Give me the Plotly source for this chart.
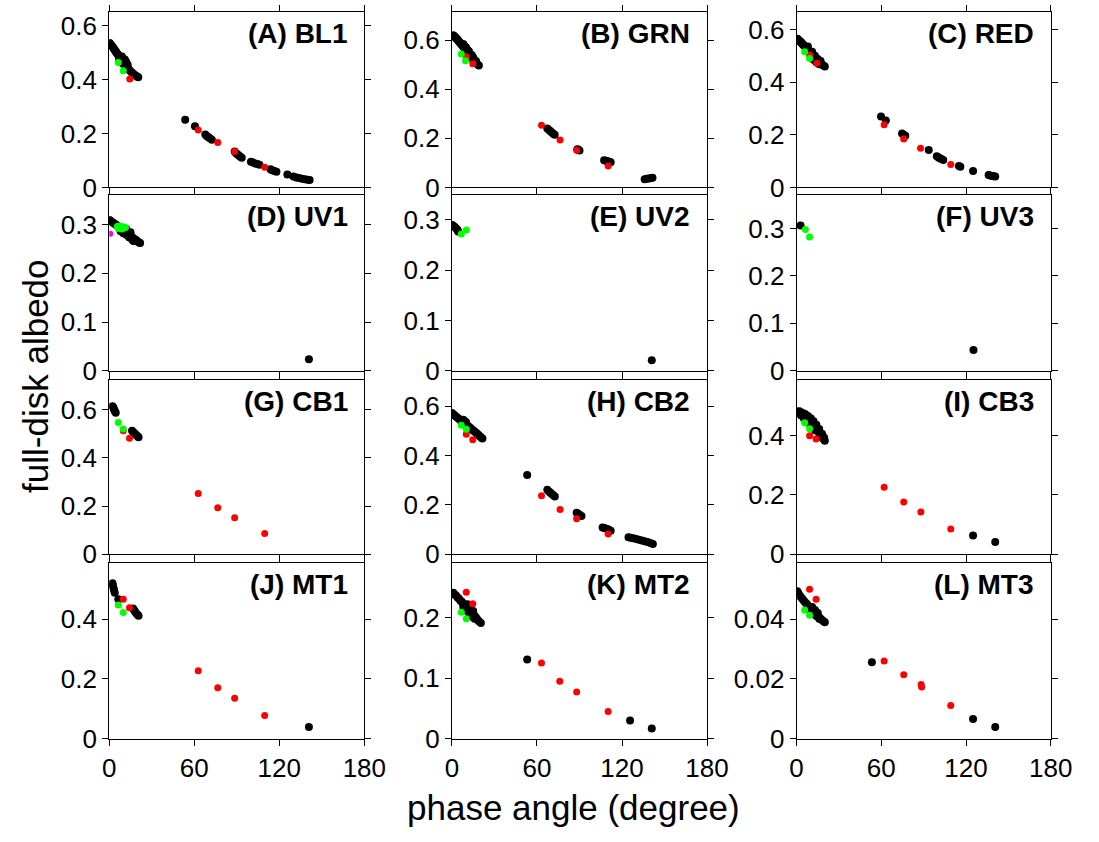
import plotly.graph_objects as go

W, H = 1099, 842

# ---------------- data (phase angle in degrees, full-disk albedo) ----------------
A_black_deg = [0.3,1,1.5,2,2.5,3,3.5,4,4.5,5,5.5,6,6.5,7,7.5,8,8.5,9,9.5,10,10.5,11,11.5,12,12.5,13,13.5,14,15,16,17,18,19,20,20.5,
               8,9,10,11,12,9,7,13,
               53.6,60.5,67.8,69,70,71,72.4,88.5,89.5,90.5,91.5,92.5,93.5,100,101.5,103,104.5,106,113.8,115,116.5,118,125.7,130,132,134,136,138,140,141.4]
A_black_alb = [0.535,0.530,0.527,0.523,0.520,0.517,0.512,0.508,0.505,0.500,0.497,0.494,0.490,0.487,0.484,0.480,0.477,0.474,0.470,0.466,0.462,0.458,0.455,0.451,0.447,0.443,0.440,0.436,0.431,0.426,0.421,0.417,0.413,0.410,0.408,
               0.470,0.463,0.457,0.474,0.465,0.485,0.476,0.455,
               0.251,0.227,0.196,0.190,0.186,0.182,0.177,0.133,0.127,0.122,0.118,0.114,0.110,0.095,0.092,0.089,0.087,0.084,0.067,0.064,0.061,0.058,0.048,0.040,0.037,0.035,0.032,0.030,0.028,0.027]
A_red_deg = [14.5,62.8,76.6,88.5,109.7]
A_red_alb = [0.402,0.213,0.166,0.133,0.075]
A_green_deg = [6.4,9.9]
A_green_alb = [0.463,0.432]

B_black_deg = [0.9,1.5,2,2.5,3,3.5,4,4.5,5,5.5,6,6.5,7,7.5,8,8.5,9,9.5,10,10.5,11,11.5,12,12.5,13,13.5,14,14.5,15,15.5,16,17,18,19,
               8,10,12,14,15,17,9,11,
               67.3,68.5,69.5,70.5,71.5,72.5,88.5,89.1,90,107.4,108.5,110,111,112,136,137.5,139,140.5,141.5]
B_black_alb = [0.620,0.617,0.614,0.611,0.608,0.605,0.602,0.598,0.595,0.592,0.588,0.585,0.581,0.578,0.574,0.571,0.567,0.563,0.560,0.556,0.552,0.548,0.545,0.541,0.537,0.533,0.529,0.526,0.522,0.518,0.514,0.508,0.502,0.497,
               0.585,0.570,0.555,0.540,0.530,0.515,0.575,0.560,
               0.240,0.234,0.229,0.224,0.219,0.215,0.156,0.153,0.150,0.111,0.109,0.107,0.105,0.103,0.033,0.035,0.036,0.038,0.039]
B_red_deg = [10.1,14.7,63.2,76.3,88,110.2]
B_red_alb = [0.533,0.504,0.253,0.193,0.151,0.087]
B_green_deg = [6.6,9.6]
B_green_alb = [0.544,0.516]

C_black_deg = [0.5,1,1.5,2,2.5,3,3.5,4,4.5,5,5.5,6,6.5,7,7.5,8,8.5,9,9.5,10,10.5,11,11.5,12,12.5,13,13.5,14,15,16,17,18,19,20,
               10,12,14,16,8,11,13,15,17,
               59.8,63.2,74.7,75.8,77,93.6,99.3,100.5,101.5,102.5,103.9,115,116,125,136,137,138.5,139.5,140.7]
C_black_alb = [0.565,0.562,0.560,0.557,0.554,0.552,0.549,0.546,0.543,0.540,0.537,0.534,0.531,0.528,0.525,0.522,0.519,0.516,0.513,0.510,0.507,0.504,0.501,0.498,0.495,0.492,0.489,0.486,0.481,0.476,0.471,0.467,0.463,0.459,
               0.495,0.485,0.475,0.468,0.535,0.515,0.500,0.488,0.480,
               0.269,0.254,0.205,0.200,0.196,0.142,0.118,0.114,0.111,0.108,0.104,0.081,0.078,0.062,0.047,0.045,0.043,0.042,0.041]
C_red_deg = [9.2,14.3,62,75.9,87.8,109.2]
C_red_alb = [0.503,0.472,0.238,0.184,0.149,0.087]
C_green_deg = [5.7,9.2]
C_green_alb = [0.515,0.490]

D_black_deg = [0.2,1,2,3,4,5,6,7,8,9,10,11,12,13,14,15,16,17,18,19,20,21,21.8,10,12,14,16,18,8,12,15,17,140.9]
D_black_alb = [0.309,0.307,0.305,0.303,0.301,0.299,0.297,0.295,0.293,0.291,0.289,0.287,0.285,0.282,0.280,0.277,0.275,0.272,0.270,0.268,0.265,0.263,0.262,0.282,0.279,0.274,0.270,0.266,0.286,0.291,0.284,0.266,0.024]
D_red_deg = []
D_red_alb = []
D_green_deg = [5.7,7,8.5,10,11.5,6.5,9]
D_green_alb = [0.296,0.297,0.296,0.295,0.294,0.292,0.291]
D_magenta_deg = [0.7]
D_magenta_alb = [0.281]

E_black_deg = [0.2,1,2,3,4,4.3,141]
E_black_alb = [0.290,0.288,0.286,0.283,0.280,0.277,0.021]
E_red_deg = []
E_red_alb = []
E_green_deg = [6.6,10.1]
E_green_alb = [0.272,0.280]

F_black_deg = [2.8,125.3]
F_black_alb = [0.306,0.044]
F_red_deg = []
F_red_alb = []
F_green_deg = [6.2,9.2]
F_green_alb = [0.298,0.282]

G_black_deg = [2.3,3,3.5,4,4.6,16.1,17,18,19,20,20.7]
G_black_alb = [0.615,0.608,0.600,0.594,0.588,0.513,0.507,0.501,0.495,0.490,0.486]
G_red_deg = [9.9,14.3,62.8,76.6,88.5,109.7]
G_red_alb = [0.513,0.482,0.252,0.193,0.152,0.086]
G_green_deg = [6.4,9.9]
G_green_alb = [0.547,0.520]

H_black_deg = [0,1,2,3,4,5,6,7,8,9,10,11,12,13,14,15,16,17,18,19,20,21,21.5,9,10,8,
               53.1,67.3,68.5,69.5,70.5,71.5,72.6,88,89,90,91.4,106.3,107.5,109,110.5,112,
               124.6,126,128,130,132,134,136,138,140,141.8]
H_black_alb = [0.572,0.567,0.562,0.557,0.553,0.548,0.543,0.538,0.534,0.530,0.526,0.521,0.516,0.511,0.506,0.501,0.497,0.492,0.487,0.482,0.476,0.471,0.469,0.540,0.535,0.545,
               0.321,0.261,0.254,0.249,0.244,0.239,0.234,0.168,0.164,0.160,0.155,0.108,0.106,0.103,0.100,0.095,
               0.069,0.067,0.065,0.062,0.059,0.056,0.053,0.050,0.046,0.042]
H_red_deg = [10.1,14.7,63.2,76.3,88,110.2]
H_red_alb = [0.486,0.464,0.237,0.181,0.144,0.082]
H_green_deg = [6.6,10.1]
H_green_alb = [0.522,0.506]

I_black_deg = [0,1,2,3,4,5,6,7,8,9,10,11,12,13,14,15,16,17,18,19,20,
               2,4,6,8,10,12,14,16,18,19.5,3,5,7,9,11,13,125,140.7]
I_black_alb = [0.482,0.479,0.476,0.473,0.470,0.466,0.462,0.458,0.454,0.449,0.444,0.439,0.433,0.427,0.421,0.414,0.408,0.401,0.394,0.388,0.382,
               0.482,0.477,0.472,0.466,0.458,0.448,0.436,0.422,0.406,0.393,0.468,0.459,0.450,0.440,0.430,0.418,0.063,0.041]
I_red_deg = [9.2,13.8,62,75.9,88,109.2]
I_red_alb = [0.399,0.388,0.226,0.176,0.142,0.085]
I_green_deg = [5.7,9.2]
I_green_alb = [0.443,0.423]

J_black_deg = [2.3,2.6,3,3.4,3.9,6.4,16.8,17.5,18.3,19,20,20.7,140.9]
J_black_alb = [0.520,0.512,0.504,0.496,0.488,0.466,0.435,0.430,0.424,0.419,0.414,0.411,0.039]
J_red_deg = [9.9,14.3,62.8,76.6,88.5,109.7]
J_red_alb = [0.466,0.438,0.227,0.170,0.135,0.078]
J_green_deg = [6.4,9.9]
J_green_alb = [0.447,0.422]

K_black_deg = [0.9,2,3,4,5,6,7,8,9,10,11,12,13,14,15,16,17,18,19,20.4,10,12,14,16,8,11,13,15,53.1,125.7,141]
K_black_alb = [0.241,0.238,0.236,0.233,0.231,0.228,0.226,0.223,0.221,0.218,0.216,0.213,0.210,0.208,0.205,0.203,0.200,0.197,0.194,0.191,0.212,0.207,0.202,0.198,0.218,0.222,0.216,0.211,0.131,0.030,0.017]
K_red_deg = [10.1,14.7,63.2,76.1,88,110.2]
K_red_alb = [0.242,0.223,0.125,0.095,0.077,0.045]
K_green_deg = [6.6,10.1]
K_green_alb = [0.209,0.198]

L_black_deg = [0.5,1,2,3,4,5,6,7,8,9,10,11,12,13,14,15,16,17,18,19,20,10,12,14,16,13,15,11,53.3,125,140.7]
L_black_alb = [0.0493,0.0488,0.0480,0.0474,0.0468,0.0462,0.0456,0.0451,0.0446,0.0441,0.0436,0.0431,0.0426,0.0421,0.0416,0.0411,0.0406,0.0401,0.0397,0.0393,0.0389,
               0.0425,0.0418,0.0410,0.0401,0.0430,0.0420,0.0440,0.0256,0.0066,0.0039]
L_red_deg = [9.2,13.8,62,75.9,88.2,88.6,109.2]
L_red_alb = [0.0500,0.0466,0.0260,0.0214,0.0181,0.0173,0.0111]
L_green_deg = [5.7,9.2]
L_green_alb = [0.0430,0.0413]

panel_labels = ["(A) BL1", "(B) GRN", "(C) RED", "(D) UV1", "(E) UV2", "(F) UV3",
                "(G) CB1", "(H) CB2", "(I) CB3", "(J) MT1", "(K) MT2", "(L) MT3"]
y_tops = [0.651, 0.716, 0.667, 0.360, 0.349, 0.370, 0.725, 0.707, 0.588, 0.587, 0.290, 0.0587]
y_tickvals = [[0, 0.2, 0.4, 0.6]] * 3 + [[0, 0.1, 0.2, 0.3]] * 3 + \
             [[0, 0.2, 0.4, 0.6]] * 2 + [[0, 0.2, 0.4]] * 2 + [[0, 0.1, 0.2], [0, 0.02, 0.04]]
y_ticktext = [["0", "0.2", "0.4", "0.6"]] * 3 + [["0", "0.1", "0.2", "0.3"]] * 3 + \
             [["0", "0.2", "0.4", "0.6"]] * 2 + [["0", "0.2", "0.4"]] * 2 + [["0", "0.1", "0.2"], ["0", "0.02", "0.04"]]
x_tickvals = [0, 60, 120, 180]
x_ticktext = ["0", "60", "120", "180"]

panels = [
    (A_black_deg, A_black_alb, A_red_deg, A_red_alb, A_green_deg, A_green_alb),
    (B_black_deg, B_black_alb, B_red_deg, B_red_alb, B_green_deg, B_green_alb),
    (C_black_deg, C_black_alb, C_red_deg, C_red_alb, C_green_deg, C_green_alb),
    (D_black_deg, D_black_alb, D_red_deg, D_red_alb, D_green_deg, D_green_alb),
    (E_black_deg, E_black_alb, E_red_deg, E_red_alb, E_green_deg, E_green_alb),
    (F_black_deg, F_black_alb, F_red_deg, F_red_alb, F_green_deg, F_green_alb),
    (G_black_deg, G_black_alb, G_red_deg, G_red_alb, G_green_deg, G_green_alb),
    (H_black_deg, H_black_alb, H_red_deg, H_red_alb, H_green_deg, H_green_alb),
    (I_black_deg, I_black_alb, I_red_deg, I_red_alb, I_green_deg, I_green_alb),
    (J_black_deg, J_black_alb, J_red_deg, J_red_alb, J_green_deg, J_green_alb),
    (K_black_deg, K_black_alb, K_red_deg, K_red_alb, K_green_deg, K_green_alb),
    (L_black_deg, L_black_alb, L_red_deg, L_red_alb, L_green_deg, L_green_alb),
]

# ---------------- layout geometry (pixels) ----------------
col_px = [(105, 367), (457, 719), (811, 1072)]
row_px = [(11, 190), (198, 377), (386, 564), (573, 752)]

FONT = "Liberation Sans, Arial, Helvetica, sans-serif"

fig = go.Figure()
layout = dict(
    width=W, height=H, margin=dict(l=0, r=0, t=0, b=0),
    paper_bgcolor="white", plot_bgcolor="white", showlegend=False,
    font=dict(family=FONT, color="black"),
)
annotations = []

for i, (bx, by, rx, ry, gx, gy) in enumerate(panels):
    r, c = divmod(i, 3)
    n = i + 1
    xs = "x" if n == 1 else f"x{n}"
    ys = "y" if n == 1 else f"y{n}"
    fig.add_trace(go.Scatter(x=bx, y=by, mode="markers", xaxis=xs, yaxis=ys,
                             marker=dict(color="black", size=8, line=dict(width=0))))
    if rx:
        fig.add_trace(go.Scatter(x=rx, y=ry, mode="markers", xaxis=xs, yaxis=ys,
                                 marker=dict(color="#ff0000", size=7, line=dict(width=0))))
    if gx:
        fig.add_trace(go.Scatter(x=gx, y=gy, mode="markers", xaxis=xs, yaxis=ys,
                                 marker=dict(color="#00ff00", size=7, line=dict(width=0))))
    if i == 3:
        fig.add_trace(go.Scatter(x=D_magenta_deg, y=D_magenta_alb, mode="markers", xaxis=xs, yaxis=ys,
                                 marker=dict(color="#ff00ff", size=6, line=dict(width=0))))

    x0, x1 = col_px[c]
    y0, y1 = row_px[r]
    xkey = "xaxis" if n == 1 else f"xaxis{n}"
    ykey = "yaxis" if n == 1 else f"yaxis{n}"
    layout[xkey] = dict(
        domain=[x0 / W, x1 / W], anchor=ys, range=[0, 180],
        tickvals=x_tickvals, ticktext=x_ticktext, showticklabels=(r == 3),
        ticks="outside", ticklen=6, tickwidth=1, tickcolor="black",
        showline=True, linecolor="black", linewidth=1, mirror="allticks",
        showgrid=False, zeroline=False,
        tickfont=dict(family=FONT, size=26, color="black"),
    )
    layout[ykey] = dict(
        domain=[1 - y1 / H, 1 - y0 / H], anchor=xs, range=[0, y_tops[i]],
        tickvals=y_tickvals[i], ticktext=y_ticktext[i],
        ticks="outside", ticklen=6, tickwidth=1, tickcolor="black",
        showline=True, linecolor="black", linewidth=1, mirror="allticks",
        showgrid=False, zeroline=False,
        tickfont=dict(family=FONT, size=26, color="black"),
    )
    annotations.append(dict(
        text=f"<b>{panel_labels[i]}</b>", xref="paper", yref="paper",
        x=(x1 - 15) / W, y=1 - (y0 + 22) / H, xanchor="right", yanchor="middle",
        showarrow=False, font=dict(family=FONT, size=28, color="black"),
    ))

annotations.append(dict(text="full-disk albedo", xref="paper", yref="paper",
                        x=30 / W, y=1 - 383 / H, textangle=-90, xanchor="center", yanchor="middle",
                        showarrow=False, font=dict(family=FONT, size=35, color="black")))
annotations.append(dict(text="phase angle (degree)", xref="paper", yref="paper",
                        x=582 / W, y=1 - 822 / H, xanchor="center", yanchor="middle",
                        showarrow=False, font=dict(family=FONT, size=35, color="black")))
layout["annotations"] = annotations
fig.update_layout(**layout)

fig.write_html("out.html")
